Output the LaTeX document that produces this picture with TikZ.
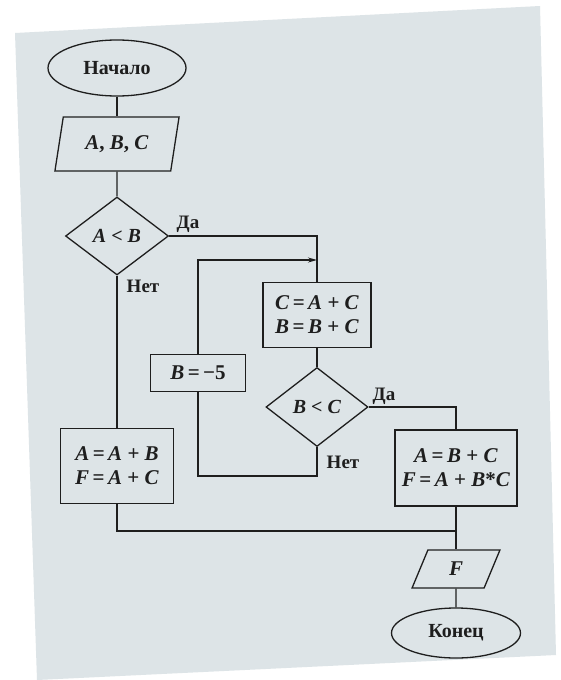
\documentclass[tikz,border=0pt]{standalone}
\usepackage{fontspec}
\setmainfont{Liberation Serif}
\usetikzlibrary{shapes.geometric,arrows.meta}
\definecolor{page}{RGB}{221,228,231}
\definecolor{ink}{RGB}{30,30,30}
\newcommand{\vv}[1]{\textit{#1}}
\begin{document}
\begin{tikzpicture}[x=1pt,y=-1pt,
  every node/.style={text=ink},
  line/.style={draw=ink, line width=1.3pt},
  term/.style={ellipse, draw=ink, line width=1.3pt, inner sep=0pt, font=\bfseries\fontsize{20}{22}\selectfont},
  io/.style={trapezium, trapezium stretches=true, trapezium left angle=74, trapezium right angle=106, draw=ink, line width=1.3pt, inner sep=0pt, font=\bfseries\fontsize{21}{24}\selectfont},
  proc/.style={rectangle, draw=ink, line width=1.3pt, inner sep=0pt, align=center, font=\bfseries\fontsize{21}{24}\selectfont},
  cond/.style={diamond, draw=ink, line width=1.3pt, inner sep=0pt, font=\bfseries\fontsize{20}{24}\selectfont},
  lbl/.style={font=\bfseries\fontsize{19}{22}\selectfont, inner sep=0pt}
]
\useasboundingbox (0,0) rectangle (561,680);
\fill[white] (0,0) rectangle (561,680);
\fill[page] (15,33) -- (540,6) -- (556,655) -- (37,680) -- cycle;

\node[term, minimum width=138, minimum height=56] (start) at (117,68) {Начало};
\node[io, minimum width=125, minimum height=54] (in) at (117,144) {\vv{A}, \vv{B}, \vv{C}};
\node[cond, minimum width=103, minimum height=78] (d1) at (117,236) {\vv{A} < \vv{B}};
\node[proc, minimum width=108, minimum height=65] (b1) at (317,315) {\vv{C}\,=\,\vv{A} + \vv{C}\\\vv{B}\,=\,\vv{B} + \vv{C}};
\node[cond, minimum width=102, minimum height=79] (d2) at (317,407) {\vv{B} < \vv{C}};
\node[proc, minimum width=95, minimum height=37] (b5) at (198,373) {\vv{B}\,=\,−5};
\node[proc, minimum width=113, minimum height=75] (b2) at (117,466) {\vv{A}\,=\,\vv{A} + \vv{B}\\\vv{F}\,=\,\vv{A} + \vv{C}};
\node[proc, minimum width=122, minimum height=76] (b3) at (456,468) {\vv{A}\,=\,\vv{B} + \vv{C}\\\vv{F}\,=\,\vv{A} + \vv{B}*\vv{C}};
\node[io, minimum width=88, minimum height=38] (out) at (456,569) {\vv{F}};
\node[term, minimum width=129, minimum height=50] (end) at (456,633) {Конец};

\node[lbl] (da1) at (188,224) {Да};
\node[lbl] (net1) at (143,286) {Нет};
\node[lbl] (da2) at (384,396) {Да};
\node[lbl] (net2) at (343,462) {Нет};

\coordinate (j1) at (317,260);
\coordinate (j2) at (317,476);
\coordinate (j3) at (456,531);

\draw[line] (start) -- (in);
\draw[line] (in) -- (d1);
\draw[line] (d1.east) -| (b1.north);
\draw[line, -{Stealth[length=9pt,width=5pt]}] (b5.north) |- (j1);
\draw[line] (b1) -- (d2);
\draw[line] (d2.east) -| (b3.north);
\draw[line] (d2.south) -- (j2) -| (b5.south);
\draw[line] (d1) -- (b2);
\draw[line] (b2.south) |- (j3);
\draw[line] (b3) -- (out);
\draw[line] (out) -- (end);
\end{tikzpicture}
\end{document}
